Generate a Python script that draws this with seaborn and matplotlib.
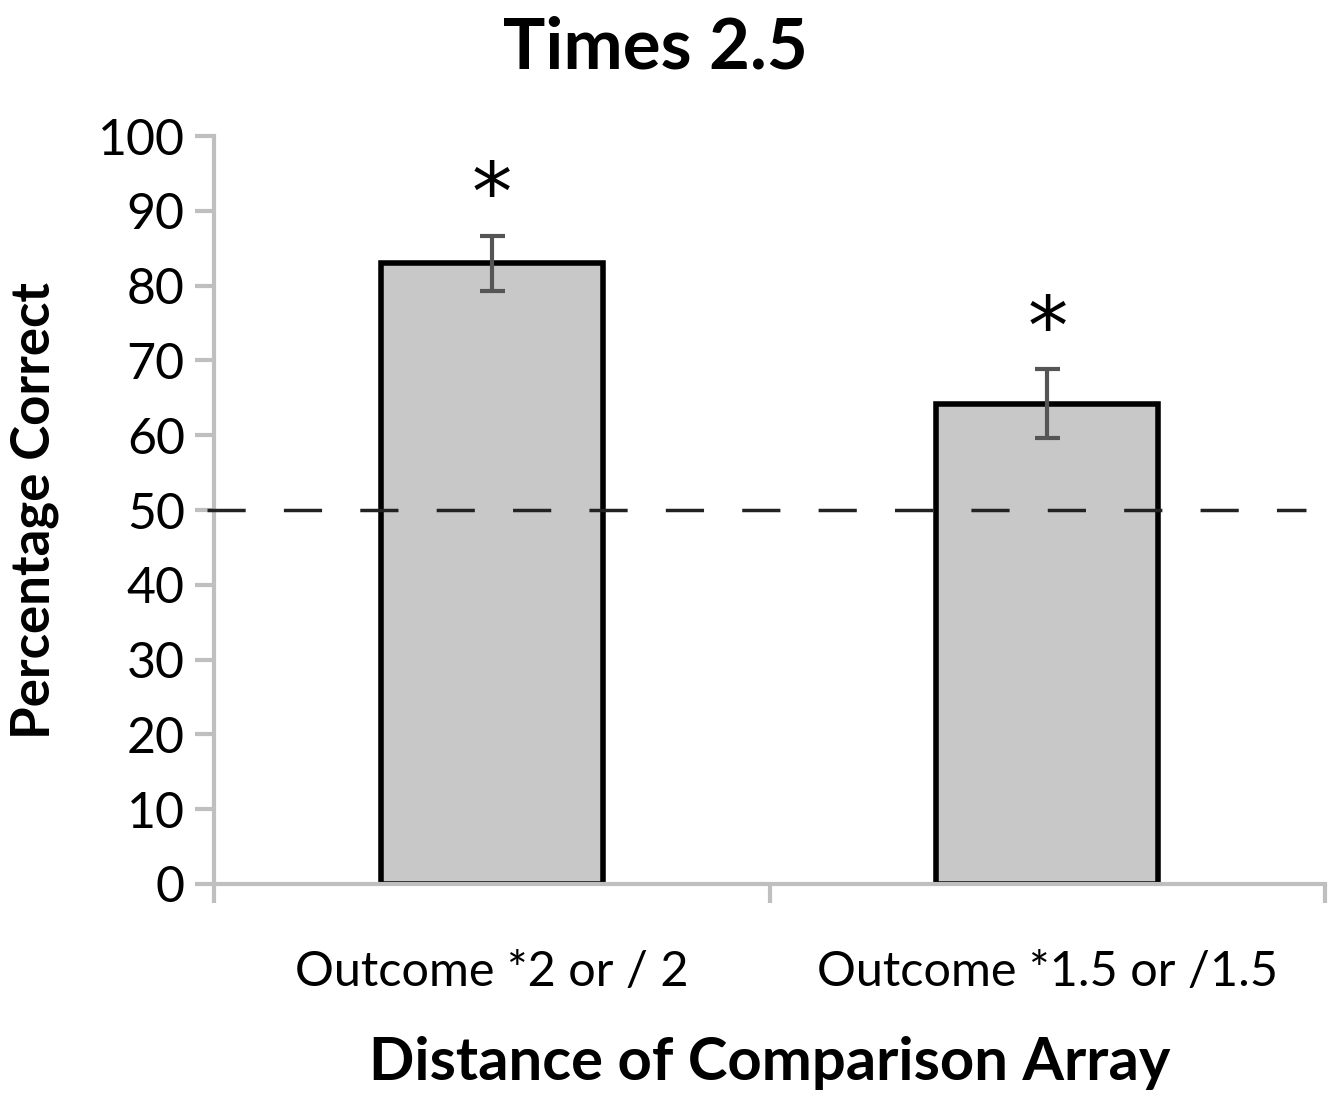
import numpy as np
import pandas as pd
from matplotlib import pyplot as plt
import seaborn as sns

categories = ["Outcome *2 or / 2", "Outcome *1.5 or /1.5"]
pct_correct = [83.0, 64.2]
err = [3.7, 4.6]
stars = ["*", "*"]
chance = 50

sns.set_style("white")
plt.rcParams['font.family'] = ['Lato', 'DejaVu Sans']
plt.rcParams.update({"text.color": "black", "axes.labelcolor": "black",
                     "xtick.labelcolor": "black", "ytick.labelcolor": "black"})

df = pd.DataFrame({"cond": categories, "pct": pct_correct})

fig = plt.figure(figsize=(13.34, 10.98), dpi=100)
ax = fig.add_axes([0.1604, 0.1949, 0.8329, 0.6812])

sns.barplot(data=df, x="cond", y="pct", color="#c8c8c8", width=0.4,
            edgecolor="black", linewidth=4, saturation=1, errorbar=None, ax=ax)
ax.errorbar(np.arange(len(categories)), pct_correct, yerr=err, fmt="none",
            ecolor="#555555", elinewidth=3, capsize=9, capthick=3, zorder=5)

# significance stars
for i, s in enumerate(stars):
    ax.text(i, pct_correct[i] + err[i] + 5.0, s, ha="center", va="center",
            fontsize=58, color="black", family="DejaVu Sans")

ax.axhline(chance, color="#222222", lw=2.5, dashes=(11, 11), zorder=6,
           xmin=-0.006, xmax=0.983, clip_on=False)

ax.set_ylim(0, 100)
ax.set_xlim(-0.5, 1.5)
ax.set_yticks(range(0, 101, 10))
ax.set_xticks([-0.5, 0.5, 1.5], minor=True)
ax.tick_params(axis="x", which="major", bottom=False, pad=44, labelsize=35)
ax.tick_params(axis="x", which="minor", bottom=True, length=14, width=3, color="#bfbfbf")
ax.tick_params(axis="y", left=True, length=14, width=3, color="#bfbfbf", labelsize=36, pad=7)

for side in ["top", "right"]:
    ax.spines[side].set_visible(False)
for side in ["left", "bottom"]:
    ax.spines[side].set_color("#bfbfbf")
    ax.spines[side].set_linewidth(3)

fig.suptitle("Times 2.5", x=0.491, y=0.956, va="center", fontsize=51, fontweight="bold")
ax.set_xlabel("Distance of Comparison Array", fontsize=43, fontweight="bold", labelpad=30)
ax.set_ylabel("Percentage Correct", fontsize=38, fontweight="bold", labelpad=28)

fig.savefig("out.png", dpi=100)
